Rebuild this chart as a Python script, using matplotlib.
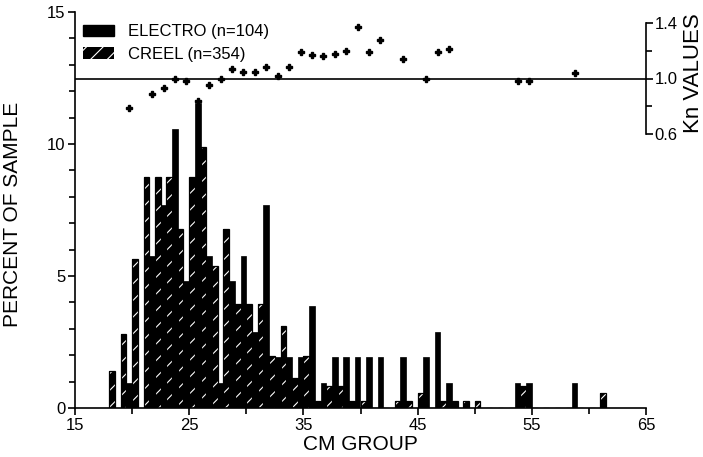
import matplotlib
matplotlib.use("Agg")
import matplotlib.pyplot as plt
from matplotlib.patches import Patch
from matplotlib.ticker import MultipleLocator, FixedLocator
import numpy as np

plt.rcParams['font.family'] = ['Liberation Sans', 'DejaVu Sans']
plt.rcParams['hatch.linewidth'] = 0.8

# ---- data ----
cm_groups = list(range(18, 62))
electro_pct = [0, 0.96, 0, 5.77, 7.69, 10.58, 4.81, 11.54, 5.77, 0.96,
               4.81, 5.77, 2.88, 7.69, 1.92, 1.92, 1.92, 3.85, 0.96, 1.92,
               1.92, 1.92, 1.92, 1.92, 0, 1.92, 0, 1.92, 2.88, 0.96,
               0, 0, 0, 0, 0, 0.96, 0.96, 0, 0, 0,
               0.96, 0, 0, 0]
creel_pct = [1.41, 2.82, 5.65, 8.76, 8.76, 8.76, 6.78, 8.76, 9.89, 5.37,
             6.78, 3.95, 3.95, 3.95, 1.98, 3.11, 1.13, 1.98, 0.28, 0.85,
             0.85, 0.28, 0.28, 0, 0, 0.28, 0.28, 0.56, 0, 0.28,
             0.28, 0.28, 0.28, 0, 0, 0, 0.85, 0, 0, 0,
             0, 0, 0, 0.56]
kn_groups = [19, 21, 22, 23, 24, 25, 26, 27, 28, 29, 30, 31, 32, 33, 34,
             35, 36, 37, 38, 39, 40, 41, 43, 45, 46, 47, 53, 54, 58]
kn_values = [0.79, 0.885, 0.93, 1.0, 0.98, 0.84, 0.95, 1.0, 1.065, 1.05,
             1.05, 1.08, 1.02, 1.08, 1.19, 1.17, 1.16, 1.18, 1.20, 1.37,
             1.19, 1.28, 1.14, 0.995, 1.19, 1.21, 0.98, 0.98, 1.04]
x_ticks = [15, 25, 35, 45, 55, 65]
y_ticks = [0, 5, 10, 15]
kn_ticks = [0.6, 1.0, 1.4]

W, H = 703, 457
fig = plt.figure(figsize=(W / 100, H / 100), dpi=100)
ax = fig.add_axes([75 / W, (H - 408) / H, 571 / W, 396 / H])

cm = np.array(cm_groups, dtype=float)
# hatched (creel) bars: white slashes on black, with black outline
ax.bar(cm, creel_pct, width=0.5, align='edge', facecolor='black',
       edgecolor='white', linewidth=0, hatch='//')
ax.bar(cm, creel_pct, width=0.5, align='edge', fill=False,
       edgecolor='black', linewidth=0.9)
# solid (electro) bars
ax.bar(cm + 0.5, electro_pct, width=0.5, align='edge', facecolor='black',
       edgecolor='black', linewidth=0.5)

ax.set_xlim(15, 65)
ax.set_ylim(0, 15)
ax.spines['top'].set_visible(False)
ax.spines['right'].set_visible(False)
for s in ('left', 'bottom'):
    ax.spines[s].set_linewidth(1.2)
ax.set_xticks(x_ticks)
ax.xaxis.set_minor_locator(FixedLocator([20, 30, 40, 50, 60]))
ax.set_yticks(y_ticks)
ax.yaxis.set_minor_locator(MultipleLocator(1))
ax.tick_params(axis='both', which='major', direction='out', length=5,
               width=1.2, labelsize=12, pad=2)
ax.tick_params(axis='both', which='minor', direction='out', length=4,
               width=1.2)
ax.set_xlabel('CM GROUP', fontsize=15, labelpad=2)
ax.set_ylabel('PERCENT OF SAMPLE', fontsize=15)
ax.yaxis.set_label_coords(-0.092, 0.49)

handles = [Patch(facecolor='black', edgecolor='black', label='ELECTRO (n=104)'),
           Patch(facecolor='black', edgecolor='white', linewidth=0,
                 hatch='//', label='CREEL (n=354)')]
ax.legend(handles=handles, loc='upper left', bbox_to_anchor=(0.0, 0.99),
          frameon=False, fontsize=12, handlelength=1.85, handleheight=0.65,
          handletextpad=0.85, labelspacing=0.45, borderaxespad=0.2,
          borderpad=0.3)

# ---- Kn axis ----
ax2 = fig.add_axes([75 / W, (H - 134) / H, 571 / W, 111 / H])
ax2.patch.set_alpha(0)
ax2.set_xlim(15, 65)
ax2.set_ylim(0.6, 1.4)
for s in ('left', 'top', 'bottom'):
    ax2.spines[s].set_visible(False)
ax2.spines['right'].set_linewidth(1.2)
ax2.set_xticks([])
ax2.yaxis.tick_right()
ax2.yaxis.set_label_position('right')
ax2.set_yticks(kn_ticks)
ax2.set_yticklabels(['0.6', '1.0', '1.4'])
ax2.yaxis.set_minor_locator(FixedLocator([0.8, 1.2]))
ax2.tick_params(axis='y', which='major', direction='out', length=5,
                width=1.2, labelsize=12, pad=1)
ax2.tick_params(axis='y', which='minor', direction='out', length=4, width=1.2)
ax2.axhline(1.0, color='black', linewidth=1.2)
ax2.plot(np.array(kn_groups) + 0.75, kn_values, linestyle='none', marker='P',
         markersize=4.5, color='black', clip_on=False)
ax2.set_ylabel('Kn VALUES', fontsize=16, labelpad=1)
ax2.yaxis.set_label_coords(1.065, 0.55)

fig.savefig('out.png', dpi=100)
